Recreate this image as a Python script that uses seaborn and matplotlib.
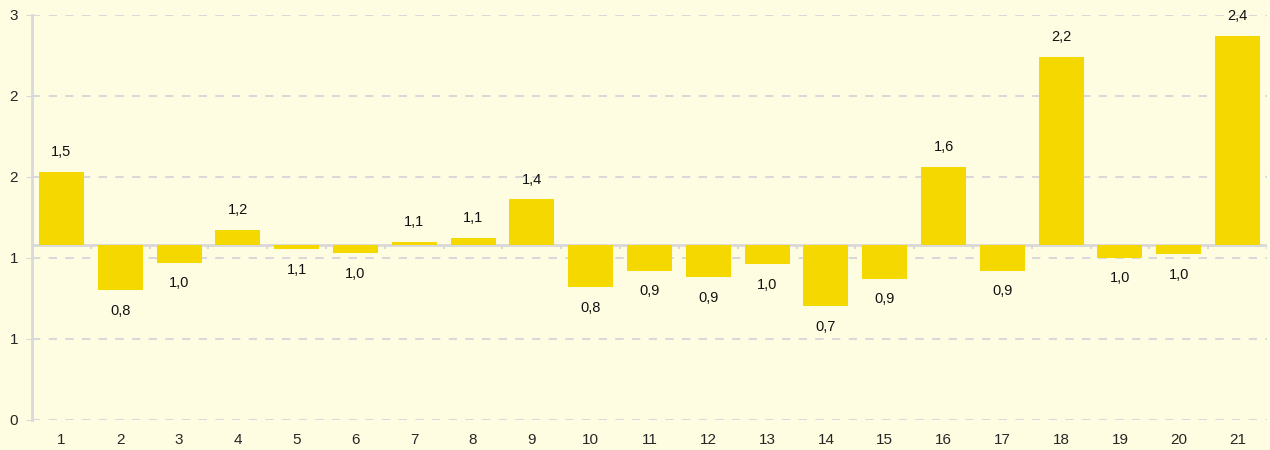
import numpy as np
import pandas as pd
import seaborn as sns
from matplotlib import pyplot as plt

categories = [str(i) for i in range(1, 22)]
values = [1.53, 0.80, 0.97, 1.17, 1.055, 1.03, 1.095, 1.12, 1.36, 0.82, 0.92,
          0.88, 0.96, 0.70, 0.87, 1.56, 0.92, 2.24, 1.00, 1.02, 2.37]
baseline = 1.08
y_ticks = [0, 0.5, 1.0, 1.5, 2.0, 2.5]
y_tick_labels = ['0', '1', '1', '2', '2', '3']

bg = '#FFFDE1'
bar_color = '#F5D800'
grid_color = '#D9D9D9'

df = pd.DataFrame({'cat': categories, 'value': values})
df['height'] = df['value'] - baseline

sns.set_style('white')
plt.rcParams['font.family'] = ['Liberation Sans', 'DejaVu Sans']

fig = plt.figure(figsize=(12.7, 4.5), dpi=100)
fig.patch.set_facecolor(bg)
ax = fig.add_axes([32 / 1270, 30.5 / 450, 1235 / 1270, 404.5 / 450])
ax.set_facecolor(bg)

sns.barplot(data=df, x='cat', y='height', bottom=baseline, color=bar_color,
            width=0.765, saturation=1, linewidth=0, edgecolor=bar_color,
            ax=ax, zorder=3)

ax.set_ylim(0, 2.5)
ax.set_xlim(-0.5, len(categories) - 0.5)
ax.set_yticks(y_ticks)
ax.set_yticklabels(y_tick_labels, fontsize=11)
for y in y_ticks:
    ax.axhline(y, color=grid_color, lw=1.5, ls=(0, (4, 4)), zorder=1)

# horizontal axis crossing at the baseline
ax.axhline(baseline, color=grid_color, lw=2, zorder=2)
ax.vlines(np.arange(-0.5, len(categories)), baseline - 0.025, baseline,
          color=grid_color, lw=1.5, zorder=2)

# data labels
for i, v in enumerate(values):
    txt = f'{v:.1f}'.replace('.', ',')
    if v >= baseline:
        ax.text(i, v + 0.08, txt, ha='center', va='bottom', fontsize=10.5, color='#111111')
    else:
        ax.text(i, v - 0.085, txt, ha='center', va='top', fontsize=10.5, color='#111111')

ax.set_xlabel('')
ax.set_ylabel('')
ax.tick_params(axis='x', length=0, pad=10, labelsize=11)
ax.tick_params(axis='y', length=4, color=grid_color, pad=6, left=True)
for s in ['top', 'right', 'bottom']:
    ax.spines[s].set_visible(False)
ax.spines['left'].set_color(grid_color)
ax.spines['left'].set_linewidth(2)

fig.savefig('out.png', dpi=100, facecolor=bg)
